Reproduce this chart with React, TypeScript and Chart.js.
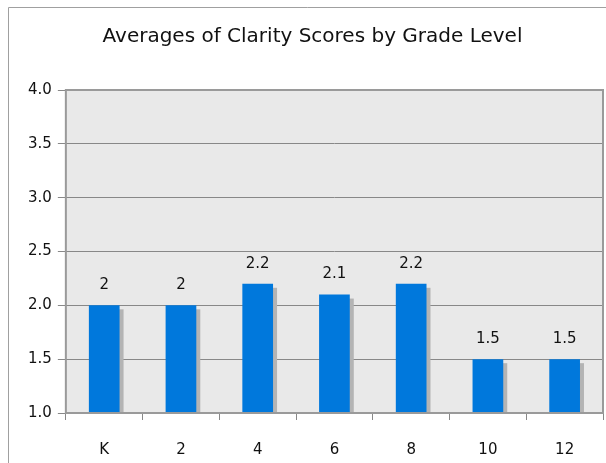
import React, { useEffect, useRef } from "react";
import { Chart, registerables } from "chart.js";

Chart.register(...registerables);

const grades = ["K", "2", "4", "6", "8", "10", "12"];
const clarityAverages = [2, 2, 2.2, 2.1, 2.2, 1.5, 1.5];
const valueLabels = ["2", "2", "2.2", "2.1", "2.2", "1.5", "1.5"];
const titleText = "Averages of Clarity Scores by Grade Level";

const FONT = "'DejaVu Sans', Verdana, sans-serif";

const framePlugin = {
  id: "frameAndBg",
  beforeDraw(chart: any) {
    const { ctx, chartArea, width, height } = chart;
    ctx.save();
    ctx.fillStyle = "#ffffff";
    ctx.fillRect(0, 0, width, height);
    ctx.strokeStyle = "#a0a0a0";
    ctx.lineWidth = 1;
    ctx.beginPath();
    ctx.moveTo(8.5, height);
    ctx.lineTo(8.5, 7.5);
    ctx.lineTo(width, 7.5);
    ctx.stroke();
    ctx.fillStyle = "#e9e9e9";
    ctx.fillRect(chartArea.left, chartArea.top, chartArea.right - chartArea.left, chartArea.bottom - chartArea.top);
    ctx.restore();
  },
  beforeDatasetsDraw(chart: any) {
    const { ctx, chartArea } = chart;
    const meta = chart.getDatasetMeta(0);
    ctx.save();
    ctx.beginPath();
    ctx.rect(chartArea.left, chartArea.top, chartArea.right - chartArea.left, chartArea.bottom - chartArea.top);
    ctx.clip();
    ctx.fillStyle = "#b4b4b4";
    meta.data.forEach((bar: any) => {
      const p = bar.getProps(["x", "y", "base", "width"], true);
      const left = p.x - p.width / 2 + 4;
      const top = p.y + 4;
      ctx.fillRect(left, top, p.width, p.base - top);
    });
    ctx.restore();
  },
  afterDatasetsDraw(chart: any) {
    const { ctx } = chart;
    const meta = chart.getDatasetMeta(0);
    ctx.save();
    ctx.fillStyle = "#111111";
    ctx.font = `15px ${FONT}`;
    ctx.textAlign = "center";
    ctx.textBaseline = "middle";
    meta.data.forEach((bar: any, i: number) => {
      const p = bar.getProps(["x", "y"], true);
      ctx.fillText(valueLabels[i], p.x, p.y - 20);
    });
    ctx.restore();
  },
  afterDraw(chart: any) {
    const { ctx, chartArea } = chart;
    ctx.save();
    ctx.strokeStyle = "#9a9a9a";
    ctx.lineWidth = 2;
    ctx.strokeRect(chartArea.left, chartArea.top, chartArea.right - chartArea.left, chartArea.bottom - chartArea.top);
    ctx.restore();
  },
};

export default function App() {
  const canvasRef = useRef<HTMLCanvasElement | null>(null);

  useEffect(() => {
    if (!canvasRef.current) return;
    const chart = new Chart(canvasRef.current, {
      type: "bar",
      data: {
        labels: grades,
        datasets: [
          {
            data: clarityAverages,
            backgroundColor: "#0078dc",
            borderWidth: 0,
            barPercentage: 0.4,
            categoryPercentage: 1.0,
          },
        ],
      },
      options: {
        responsive: false,
        animation: false,
        layout: { padding: { left: 22, right: 3, top: 0, bottom: -17 } },
        plugins: {
          legend: { display: false },
          tooltip: { enabled: false },
          title: {
            display: true,
            text: titleText,
            color: "#111111",
            font: { family: FONT, size: 20, weight: "normal" },
            padding: { top: 25, bottom: 41 },
          },
        },
        scales: {
          x: {
            grid: {
              offset: true,
              drawOnChartArea: false,
              tickLength: 7,
              color: "#888888",
            },
            border: { display: true, color: "#888888" },
            ticks: {
              color: "#111111",
              font: { family: FONT, size: 15 },
              padding: 21,
            },
          },
          y: {
            min: 1,
            max: 4,
            ticks: {
              stepSize: 0.5,
              color: "#111111",
              font: { family: FONT, size: 15 },
              padding: 6,
              callback: (v: any) => Number(v).toFixed(1),
            },
            grid: {
              color: "#888888",
              tickLength: 8,
            },
            border: { display: true, color: "#888888" },
          },
        },
      },
      plugins: [framePlugin],
    });
    return () => chart.destroy();
  }, []);

  return (
    <div style={{ position: "absolute", left: 0, top: 0, width: 606, height: 463 }}>
      <canvas ref={canvasRef} width={606} height={463} />
    </div>
  );
}
